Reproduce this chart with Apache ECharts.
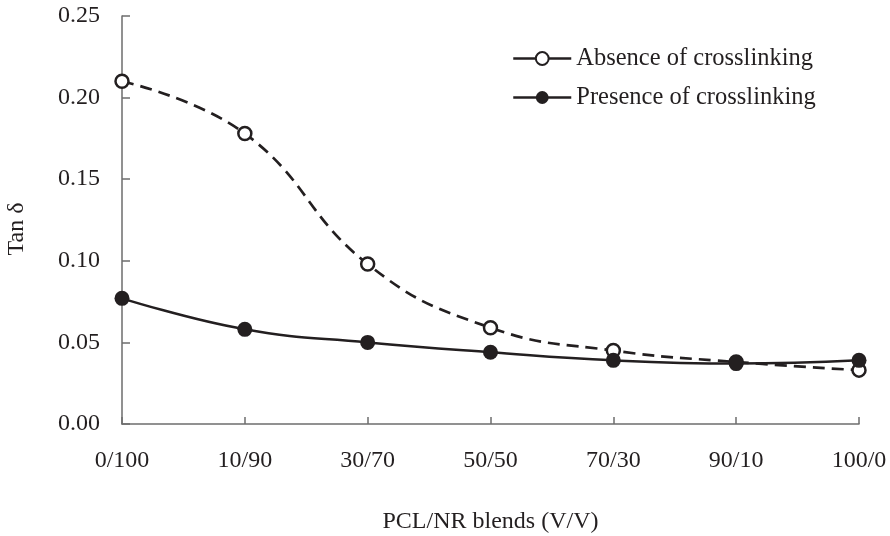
<!DOCTYPE html>
<html>
<head>
<meta charset="utf-8">
<style>
  html, body { margin: 0; padding: 0; background: #fff; }
  #chart { width: 890px; height: 536px; }
</style>
<script src="https://cdn.jsdelivr.net/npm/echarts@6/dist/echarts.min.js"></script>
</head>
<body>
<div id="chart"></div>
<script>
// PCL/NR blend ratios (V/V)
const blends = ['0/100', '10/90', '30/70', '50/50', '70/30', '90/10', '100/0'];
// Tan δ without crosslinking
const absenceValues = [0.21, 0.178, 0.098, 0.059, 0.045, 0.038, 0.033];
// Tan δ with crosslinking
const presenceValues = [0.077, 0.058, 0.050, 0.044, 0.039, 0.037, 0.039];
// y-axis tick values
const yTicks = [0, 0.05, 0.10, 0.15, 0.20, 0.25];

const ink = '#231f20';
const axisGray = '#6d6d6d';
const serif = '"Liberation Serif", "Times New Roman", serif';

const chart = echarts.init(document.getElementById('chart'), null, { renderer: 'canvas' });

chart.setOption({
  backgroundColor: '#ffffff',
  animation: false,
  textStyle: { fontFamily: serif, color: ink },
  grid: {
    left: 122, right: 31, top: 16, bottom: 112,
    containLabel: false,
    outerBoundsMode: 'none'
  },
  legend: {
    left: 507,
    top: 41,
    orient: 'vertical',
    itemWidth: 58,
    itemHeight: 16,
    itemGap: 14,
    textStyle: { fontFamily: serif, fontSize: 24.5, color: ink },
    lineStyle: { type: 'solid', width: 2.5 },
    data: ['Absence of crosslinking', 'Presence of crosslinking']
  },
  xAxis: {
    type: 'category',
    data: blends,
    boundaryGap: false,
    name: 'PCL/NR blends (V/V)',
    nameLocation: 'middle',
    nameGap: 86,
    nameTextStyle: { fontFamily: serif, fontSize: 24, color: ink },
    axisLine: { lineStyle: { color: axisGray, width: 1.5 } },
    axisTick: { inside: true, length: 7, alignWithLabel: true, lineStyle: { color: axisGray, width: 1.5 } },
    axisLabel: { fontFamily: serif, fontSize: 24, color: ink, margin: 25, interval: 0 },
    splitLine: { show: false }
  },
  yAxis: {
    type: 'value',
    min: yTicks[0],
    max: yTicks[yTicks.length - 1],
    interval: yTicks[1] - yTicks[0],
    name: 'Tan δ',
    nameLocation: 'middle',
    nameGap: 93,
    nameRotate: 90,
    nameTextStyle: { fontFamily: serif, fontSize: 24, color: ink, padding: [0, 18, 0, 0] },
    axisLine: { show: true, lineStyle: { color: axisGray, width: 1.5 } },
    axisTick: { show: true, inside: true, length: 8, lineStyle: { color: axisGray, width: 1.5 } },
    axisLabel: {
      fontFamily: serif, fontSize: 24, color: ink, margin: 22,
      formatter: v => v.toFixed(2)
    },
    splitLine: { show: false }
  },
  series: [
    {
      name: 'Absence of crosslinking',
      type: 'line',
      data: absenceValues,
      smooth: 0.45,
      symbol: 'circle',
      symbolSize: 13,
      showSymbol: true,
      lineStyle: { color: ink, width: 2.7, type: [12, 7] },
      itemStyle: { color: '#ffffff', borderColor: ink, borderWidth: 2.5 },
      z: 2
    },
    {
      name: 'Presence of crosslinking',
      type: 'line',
      data: presenceValues,
      smooth: 0.45,
      symbol: 'circle',
      symbolSize: 15,
      showSymbol: true,
      lineStyle: { color: ink, width: 2.5 },
      itemStyle: { color: ink, borderColor: ink, borderWidth: 0 },
      z: 3
    }
  ]
});
</script>
</body>
</html>
